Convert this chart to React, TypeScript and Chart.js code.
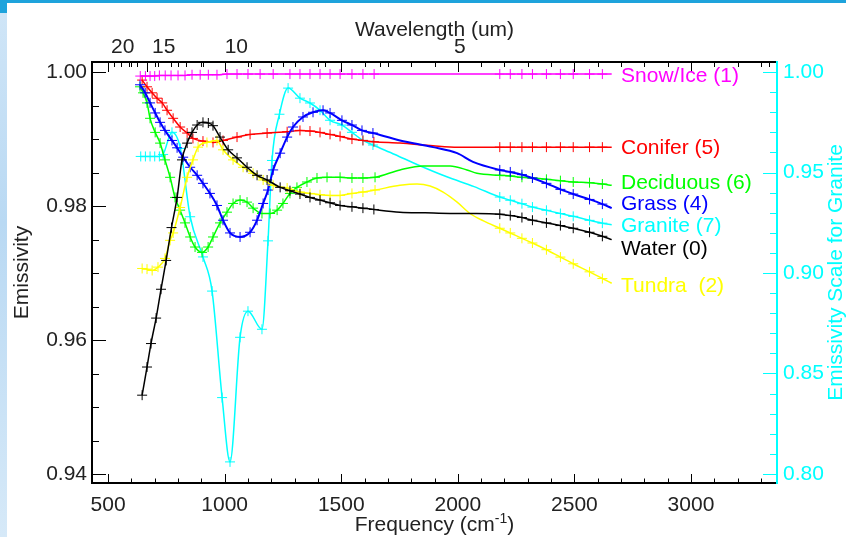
import React, { useEffect, useRef } from "react";
import { Chart, registerables } from "chart.js";

Chart.register(...registerables);

// ---------------- data (frequency in cm-1, emissivity) ----------------
const waterFreq = [646, 667, 684, 706, 727, 749, 772, 796, 817, 839, 860, 882, 907, 930, 950, 980, 1015, 1053, 1096, 1139, 1182, 1238, 1280, 1323, 1366, 1409, 1452, 1495, 1546, 1593, 1640, 1752, 1860, 1967, 2080, 2180, 2225, 2275, 2320, 2380, 2440, 2495, 2565, 2620, 2660];
const waterEmis = [0.9518, 0.9560, 0.9595, 0.9633, 0.9676, 0.9719, 0.9768, 0.9813, 0.9869, 0.9894, 0.9910, 0.9921, 0.9925, 0.9924, 0.9920, 0.9903, 0.9884, 0.9872, 0.9858, 0.9846, 0.9839, 0.9828, 0.9823, 0.9818, 0.9813, 0.9809, 0.9805, 0.9801, 0.9799, 0.9797, 0.9795, 0.9791, 0.9790, 0.9789, 0.9789, 0.9788, 0.9786, 0.9783, 0.9779, 0.9775, 0.9771, 0.9767, 0.9761, 0.9755, 0.9750];

const snowFreq = [638, 660, 680, 700, 720, 745, 770, 800, 830, 860, 895, 930, 967, 1010, 1053, 1100, 1152, 1208, 1280, 1323, 1366, 1409, 1452, 1495, 1546, 1593, 1641, 1900, 2180, 2225, 2275, 2320, 2380, 2440, 2495, 2565, 2620, 2660];
const snowEmis = [0.9994, 0.9994, 0.9994, 0.9994, 0.9995, 0.9995, 0.9995, 0.9995, 0.9995, 0.9996, 0.9996, 0.9996, 0.9996, 0.9997, 0.9997, 0.9997, 0.9997, 0.9997, 0.9997, 0.9997, 0.9997, 0.9997, 0.9997, 0.9997, 0.9997, 0.9997, 0.9997, 0.9997, 0.9997, 0.9997, 0.9997, 0.9997, 0.9997, 0.9997, 0.9997, 0.9997, 0.9997, 0.9997];

const coniferFreq = [646, 667, 689, 710, 732, 753, 779, 809, 839, 864, 907, 950, 993, 1053, 1109, 1182, 1268, 1323, 1366, 1409, 1452, 1495, 1546, 1593, 1640, 1752, 1894, 2000, 2180, 2225, 2275, 2320, 2380, 2440, 2495, 2565, 2620, 2660];
const coniferEmis = [0.9988, 0.9978, 0.9969, 0.9961, 0.9954, 0.9943, 0.9931, 0.9918, 0.9909, 0.9901, 0.9897, 0.9895, 0.9898, 0.9903, 0.9907, 0.9909, 0.9911, 0.9913, 0.9912, 0.9910, 0.9907, 0.9904, 0.9900, 0.9898, 0.9896, 0.9894, 0.9890, 0.9888, 0.9888, 0.9888, 0.9888, 0.9888, 0.9888, 0.9888, 0.9888, 0.9888, 0.9888, 0.9888];

const grassFreq = [637, 659, 680, 702, 723, 744, 774, 796, 822, 852, 882, 907, 937, 967, 993, 1023, 1066, 1109, 1139, 1165, 1186, 1208, 1238, 1268, 1293, 1336, 1379, 1422, 1452, 1503, 1546, 1589, 1636, 1752, 1894, 1997, 2065, 2180, 2225, 2275, 2320, 2380, 2440, 2495, 2565, 2620, 2660];
const grassEmis = [0.9981, 0.9969, 0.9954, 0.9939, 0.9925, 0.9913, 0.9898, 0.9887, 0.9873, 0.9858, 0.9846, 0.9834, 0.9819, 0.9801, 0.9779, 0.9760, 0.9754, 0.9761, 0.9779, 0.9804, 0.9824, 0.9854, 0.9879, 0.9903, 0.9918, 0.9933, 0.9940, 0.9943, 0.9939, 0.9928, 0.9921, 0.9913, 0.9909, 0.9898, 0.9888, 0.9879, 0.9866, 0.9854, 0.9851, 0.9847, 0.9842, 0.9834, 0.9825, 0.9818, 0.9810, 0.9803, 0.9797];

const deciduousFreq = [637, 650, 667, 680, 702, 723, 744, 766, 787, 809, 830, 852, 873, 903, 929, 950, 980, 1010, 1036, 1066, 1096, 1122, 1160, 1195, 1225, 1250, 1280, 1310, 1353, 1396, 1439, 1495, 1546, 1593, 1645, 1752, 1851, 1967, 2039, 2082, 2180, 2225, 2275, 2320, 2380, 2440, 2495, 2565, 2620, 2660];
const deciduousEmis = [0.9978, 0.9969, 0.9954, 0.9931, 0.9910, 0.9894, 0.9869, 0.9843, 0.9813, 0.9794, 0.9775, 0.9754, 0.9739, 0.9731, 0.9739, 0.9754, 0.9775, 0.9791, 0.9804, 0.9809, 0.9806, 0.9797, 0.9789, 0.9789, 0.9794, 0.9804, 0.9819, 0.9828, 0.9836, 0.9842, 0.9843, 0.9843, 0.9842, 0.9842, 0.9843, 0.9854, 0.9860, 0.9860, 0.9854, 0.9849, 0.9846, 0.9845, 0.9843, 0.9842, 0.9840, 0.9838, 0.9836, 0.9835, 0.9833, 0.9831];

const tundraFreq = [646, 667, 689, 714, 744, 766, 779, 809, 839, 864, 886, 924, 967, 993, 1036, 1079, 1122, 1165, 1208, 1268, 1323, 1366, 1409, 1452, 1495, 1546, 1593, 1645, 1752, 1825, 1881, 1937, 1997, 2052, 2110, 2180, 2225, 2275, 2320, 2380, 2440, 2495, 2565, 2620, 2660];
const tundraEmis = [0.9707, 0.9706, 0.9704, 0.9709, 0.9722, 0.9749, 0.9760, 0.9798, 0.9843, 0.9869, 0.9888, 0.9895, 0.9898, 0.9884, 0.9869, 0.9858, 0.9849, 0.9839, 0.9831, 0.9827, 0.9821, 0.9819, 0.9817, 0.9816, 0.9816, 0.9819, 0.9821, 0.9824, 0.9831, 0.9833, 0.9830, 0.9821, 0.9806, 0.9789, 0.9778, 0.9767, 0.9760, 0.9752, 0.9745, 0.9735, 0.9724, 0.9714, 0.9702, 0.9692, 0.9685];

// granite uses the right-hand scale
const graniteFreq = [640, 660, 680, 700, 720, 736, 774, 810, 852, 907, 946, 989, 1023, 1066, 1100, 1160, 1186, 1203, 1235, 1272, 1323, 1366, 1409, 1452, 1503, 1546, 1593, 1636, 1730, 1825, 1950, 2070, 2180, 2225, 2275, 2320, 2380, 2440, 2495, 2565, 2620, 2660];
const graniteEmis = [0.958, 0.958, 0.958, 0.958, 0.958, 0.959, 0.970, 0.962, 0.928, 0.908, 0.891, 0.838, 0.806, 0.868, 0.881, 0.872, 0.916, 0.956, 0.979, 0.992, 0.987, 0.9846, 0.981, 0.976, 0.9736, 0.970, 0.966, 0.9637, 0.959, 0.954, 0.948, 0.943, 0.9378, 0.9362, 0.9345, 0.9328, 0.9312, 0.9296, 0.9282, 0.9262, 0.9248, 0.9240];

// axis ticks
const frequencyTicks = [500, 1000, 1500, 2000, 2500, 3000];
const emissivityTicks = [0.94, 0.96, 0.98, 1.0];
const graniteTicks = [0.8, 0.85, 0.9, 0.95, 1.0];
const wavelengthLabels = [20, 15, 10, 5];
const wavelengthMinor = [3, 4, 5, 6, 7, 8, 9, 10, 11, 12, 13, 14, 15, 16, 17, 18, 19, 20];

// ---------------- style ----------------
const FONT = "'Liberation Sans', Arial, Helvetica, sans-serif";
const TEXT = "#222222";
const CYAN = "#00ffff";
const MAGENTA = "#ff00ff";
const RED = "#ff0000";
const GREEN = "#00ff00";
const BLUE = "#0000ff";
const YELLOW = "#ffff00";
const BLACK = "#000000";

const seriesLabels = [
  { text: "Snow/Ice (1)", color: MAGENTA, at: 0.99855 },
  { text: "Conifer (5)", color: RED, at: 0.98772 },
  { text: "Deciduous (6)", color: GREEN, at: 0.98249 },
  { text: "Grass (4)", color: BLUE, at: 0.9794 },
  { text: "Granite (7)", color: CYAN, at: 0.97616 },
  { text: "Water (0)", color: BLACK, at: 0.97269 },
  { text: "Tundra  (2)", color: YELLOW, at: 0.96712 },
];

const hideMarker = (f: number) => (f > 1660 && f < 2170) || f > 2640;

const idlAxes = {
  id: "idlAxes",
  afterDraw(chart: any) {
    const { ctx, chartArea: a } = chart;
    const sx = chart.scales.x;
    const sy = chart.scales.y;
    const sy2 = chart.scales.y2;
    const snap = (v: number) => Math.round(v) + 0.5;
    const line = (x1: number, y1: number, x2: number, y2: number) => {
      ctx.beginPath();
      ctx.moveTo(x1, y1);
      ctx.lineTo(x2, y2);
      ctx.stroke();
    };
    ctx.save();
    ctx.lineWidth = 1;
    ctx.strokeStyle = BLACK;
    // frequency ticks, bottom and mirrored on top
    for (let f = 500; f <= 3300; f += 100) {
      const px = snap(sx.getPixelForValue(f));
      const major = f % 500 === 0;
      line(px, a.bottom, px, a.bottom - (major ? 9 : 4.5));
      line(px, a.top, px, a.top + (major ? 10 : 5));
    }
    // wavelength ticks on top
    for (const w of wavelengthMinor) {
      const px = snap(sx.getPixelForValue(10000 / w));
      const major = w % 5 === 0;
      line(px, a.top, px, a.top + (major ? 10 : 5));
    }
    // left ticks
    for (let i = 0; i <= 12; i++) {
      const py = snap(sy.getPixelForValue(0.94 + i * 0.005));
      line(a.left, py, a.left + (i % 4 === 0 ? 14 : 7), py);
    }
    // right ticks
    ctx.strokeStyle = CYAN;
    for (let i = 0; i <= 20; i++) {
      const py = snap(sy2.getPixelForValue(0.8 + i * 0.01));
      line(a.right, py, a.right - (i % 5 === 0 ? 14 : 7), py);
    }
    // frame
    ctx.lineWidth = 2;
    ctx.strokeStyle = BLACK;
    ctx.beginPath();
    ctx.moveTo(a.right, a.top);
    ctx.lineTo(a.left, a.top);
    ctx.lineTo(a.left, a.bottom);
    ctx.lineTo(a.right, a.bottom);
    ctx.stroke();
    ctx.strokeStyle = CYAN;
    line(a.right, a.top - 1, a.right, a.bottom + 1);

    const cx = (a.left + a.right) / 2;
    const cy = (a.top + a.bottom) / 2;
    ctx.textBaseline = "alphabetic";
    ctx.fillStyle = TEXT;
    ctx.font = `21px ${FONT}`;
    // top wavelength labels
    for (const w of wavelengthLabels) {
      const px = sx.getPixelForValue(10000 / w);
      if (w === 5) {
        ctx.textAlign = "center";
        ctx.fillText(String(w), px + 2, a.top - 9);
      } else {
        ctx.textAlign = "left";
        const nudge = w === 20 ? 3 : w === 15 ? 5 : 0;
        ctx.fillText(String(w), px + nudge, a.top - 9);
      }
    }
    ctx.textAlign = "center";
    ctx.fillText("Wavelength (um)", cx, 36);

    // bottom title with superscript
    const main = "Frequency (cm";
    const sup = "-1";
    const close = ")";
    ctx.font = `21px ${FONT}`;
    const w1 = ctx.measureText(main).width;
    const w3 = ctx.measureText(close).width;
    ctx.font = `14px ${FONT}`;
    const w2 = ctx.measureText(sup).width;
    let x0 = cx - (w1 + w2 + w3) / 2;
    ctx.textAlign = "left";
    const by = a.bottom + 48;
    ctx.font = `21px ${FONT}`;
    ctx.fillText(main, x0, by);
    ctx.font = `14px ${FONT}`;
    ctx.fillText(sup, x0 + w1, by - 8);
    ctx.font = `21px ${FONT}`;
    ctx.fillText(close, x0 + w1 + w2, by);

    // left title
    ctx.save();
    ctx.translate(28, cy);
    ctx.rotate(-Math.PI / 2);
    ctx.textAlign = "center";
    ctx.fillText("Emissivity", 0, 0);
    ctx.restore();
    // right title
    ctx.save();
    ctx.translate(842, cy);
    ctx.rotate(-Math.PI / 2);
    ctx.textAlign = "center";
    ctx.fillStyle = CYAN;
    ctx.fillText("Emissivity Scale for Granite", 0, 0);
    ctx.restore();

    // series labels
    ctx.textAlign = "left";
    const lx = sx.getPixelForValue(2700);
    for (const l of seriesLabels) {
      ctx.fillStyle = l.color;
      ctx.fillText(l.text, lx, sy.getPixelForValue(l.at));
    }
    ctx.restore();
  },
};

function series(label: string, freq: number[], emis: number[], color: string, axis = "y", width = 1.5) {
  return {
    label,
    data: freq.map((f, i) => ({ x: f, y: emis[i] })),
    borderColor: color,
    backgroundColor: color,
    borderWidth: width,
    pointStyle: "cross",
    pointBorderColor: color,
    pointBorderWidth: 1,
    pointRadius: (c: any) => (c.raw && hideMarker(c.raw.x) ? 0 : 5),
    pointHoverRadius: 5,
    cubicInterpolationMode: "monotone",
    yAxisID: axis,
  };
}

export default function App() {
  const ref = useRef<HTMLCanvasElement>(null);
  useEffect(() => {
    const canvas = ref.current;
    if (!canvas) return;
    const tickFont = { family: FONT, size: 21 };
    const chart = new Chart(canvas, {
      type: "line",
      data: {
        datasets: [
          series("Water (0)", waterFreq, waterEmis, BLACK),
          series("Snow/Ice (1)", snowFreq, snowEmis, MAGENTA),
          series("Tundra (2)", tundraFreq, tundraEmis, YELLOW),
          series("Grass (4)", grassFreq, grassEmis, BLUE, "y", 2),
          series("Conifer (5)", coniferFreq, coniferEmis, RED),
          series("Deciduous (6)", deciduousFreq, deciduousEmis, GREEN),
          series("Granite (7)", graniteFreq, graniteEmis, CYAN, "y2"),
        ] as any,
      },
      options: {
        responsive: false,
        animation: false,
        events: [],
        layout: { padding: { top: 62, left: 0, right: 0, bottom: 0 } },
        plugins: { legend: { display: false }, tooltip: { enabled: false } },
        scales: {
          x: {
            type: "linear",
            position: "bottom",
            min: 431,
            max: 3369,
            afterBuildTicks: (s: any) => {
              s.ticks = frequencyTicks.map((v) => ({ value: v }));
            },
            afterFit: (s: any) => {
              s.height = 54;
            },
            ticks: { font: tickFont, color: TEXT, padding: 10, maxRotation: 0, autoSkip: false, callback: (v: any) => String(v) },
            grid: { display: false, drawTicks: false },
            border: { display: false },
          },
          y: {
            type: "linear",
            position: "left",
            min: 0.9387,
            max: 1.0015,
            afterBuildTicks: (s: any) => {
              s.ticks = emissivityTicks.map((v) => ({ value: v }));
            },
            afterFit: (s: any) => {
              s.width = 92;
            },
            ticks: { font: tickFont, color: TEXT, padding: 5, callback: (v: any) => Number(v).toFixed(2) },
            grid: { display: false, drawTicks: false },
            border: { display: false },
          },
          y2: {
            type: "linear",
            position: "right",
            min: 0.7955,
            max: 1.005,
            afterBuildTicks: (s: any) => {
              s.ticks = graniteTicks.map((v) => ({ value: v }));
            },
            afterFit: (s: any) => {
              s.width = 69;
            },
            ticks: { font: tickFont, color: CYAN, padding: 6, callback: (v: any) => Number(v).toFixed(2) },
            grid: { display: false, drawTicks: false },
            border: { display: false },
          },
        },
      } as any,
      plugins: [idlAxes],
    });
    return () => chart.destroy();
  }, []);

  return (
    <div style={{ position: "fixed", left: 0, top: 0, width: 846, height: 537, background: "#ffffff", overflow: "hidden" }}>
      <canvas ref={ref} width={846} height={537} style={{ display: "block", position: "absolute", left: 0, top: 0 }} />
      <div style={{ position: "absolute", left: 0, top: 0, width: 846, height: 3, background: "#1ea3dc" }} />
      <div style={{ position: "absolute", left: 0, top: 0, width: 7, height: 13, background: "#1ea3dc" }} />
      <div style={{ position: "absolute", left: 0, top: 13, width: 7, height: 524, background: "linear-gradient(180deg, #cfe5f7 0%, #b9d9f3 40%, #d6e9f8 100%)" }} />
    </div>
  );
}
